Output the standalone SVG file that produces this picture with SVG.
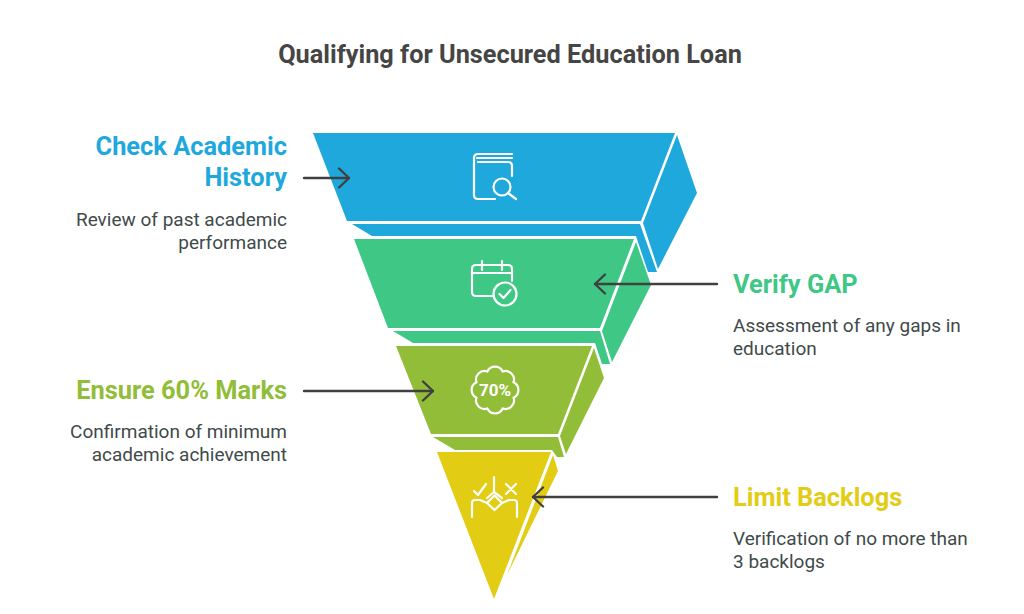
<svg xmlns="http://www.w3.org/2000/svg" width="1024" height="614" viewBox="0 0 1024 614">
<style>
text{font-family:Roboto,"Liberation Sans",sans-serif}
.t{font-size:25.300px;font-weight:700;fill:#454545}
.h{font-size:25.400px;font-weight:700}
.d{font-size:19px;fill:#3f4a4a}
.e{text-anchor:end}
.i{fill:none;stroke:#fff;stroke-width:2.2;stroke-linecap:round;stroke-linejoin:round}
.c{fill:none;stroke:#404040;stroke-width:2.400;stroke-linecap:round;stroke-linejoin:round}
</style>
<defs><marker id="a" viewBox="0 0 14 24" refX="13" refY="12" markerWidth="14" markerHeight="24" markerUnits="userSpaceOnUse" orient="auto"><path d="M3 2.500L13 12L3 21.500" fill="none" stroke="#404040" stroke-width="2.400" stroke-linecap="round" stroke-linejoin="round"/></marker></defs>
<rect width="1024" height="614" fill="#fff"/>
<text class="t" x="510" y="63" text-anchor="middle">Qualifying for Unsecured Education Loan</text>
<g id="node-blue" fill="#1fa8dc">
<path d="M313 133H675L641 221H347Z"/>
<path d="M677 135L697 193L658 269L643 223Z"/>
<path d="M352 224H640L657 272H648L636 236H372Z"/>
<g class="i"><path d="M495 199H478Q474 199 474 195V158Q474 154 478 154H512M477 158H512M478 162H508Q512 162 512 166V176"/><circle cx="502" cy="187" r="8.500"/><path d="M508 193L516 199"/></g>
<text class="h e" x="287" y="155" fill="#1fa8dc">Check Academic</text>
<text class="h e" x="287" y="186" fill="#1fa8dc">History</text>
<text class="d e" x="287" y="226">Review of past academic</text>
<text class="d e" x="287" y="249">performance</text>
</g>
<g id="node-green" fill="#3ec785">
<path d="M354 239H634L600 328H388Z"/>
<path d="M636 242L651 285L612 362L602 331Z"/>
<path d="M393 331H600L610 364H602L595 343H413Z"/>
<g class="i"><path d="M492 296H476Q472 296 472 292V269Q472 265 476 265H508Q512 265 512 269V281M472 273H512M482 261V270M502 261V270"/><circle cx="505" cy="294" r="11.500"/><path d="M499.500 294L503.500 298L510.500 290"/></g>
<text class="h" x="733" y="293" fill="#3ec785">Verify GAP</text>
<text class="d" x="733" y="332">Assessment of any gaps in</text>
<text class="d" x="733" y="355">education</text>
</g>
<g id="node-olive" fill="#91bd38">
<path d="M396 346H592L558 434H431Z"/>
<path d="M594 348L604 378L566 454L560 436Z"/>
<path d="M433 437H558L564 457H557L552 450H455Z"/>
<path class="i" d="M502.700 371.500A8.500 8.500 0 0 1 513.500 382.300A8.500 8.500 0 0 1 513.500 397.700A8.500 8.500 0 0 1 502.700 408.500A8.500 8.500 0 0 1 487.300 408.500A8.500 8.500 0 0 1 476.500 397.700A8.500 8.500 0 0 1 476.500 382.300A8.500 8.500 0 0 1 487.300 371.500A8.500 8.500 0 0 1 502.700 371.500Z"/>
<text x="495" y="396" text-anchor="middle" font-size="17" font-weight="700" fill="#fff">70%</text>
<text class="h e" x="287" y="399" fill="#91bd38">Ensure 60% Marks</text>
<text class="d e" x="287" y="438">Confirmation of minimum</text>
<text class="d e" x="287" y="461">academic achievement</text>
</g>
<g id="node-yellow" fill="#e2cc14">
<path d="M437 452H551L494 599Z"/>
<path d="M553 455L558 471L507 575Z"/>
<g class="i"><path d="M494 477V492L487 498M494 492L502 498M494.500 495.500L502 503L494.500 510L487 503ZM487 503L480 500H475Q472 500 472 503V517M502 503L509 500H514Q517 500 517 503V517M474 491L478 495L486 484M506 484L516 494M516 484L506 494"/></g>
<text class="h" x="733" y="506" fill="#e2cc14">Limit Backlogs</text>
<text class="d" x="733" y="545">Verification of no more than</text>
<text class="d" x="733" y="568">3 backlogs</text>
</g>
<g id="connectors">
<path class="c" d="M304 178H349" marker-end="url(#a)"/>
<path class="c" d="M717 284H595" marker-end="url(#a)"/>
<path class="c" d="M304 391H433" marker-end="url(#a)"/>
<path class="c" d="M717 497H533" marker-end="url(#a)"/>
</g>
</svg>
